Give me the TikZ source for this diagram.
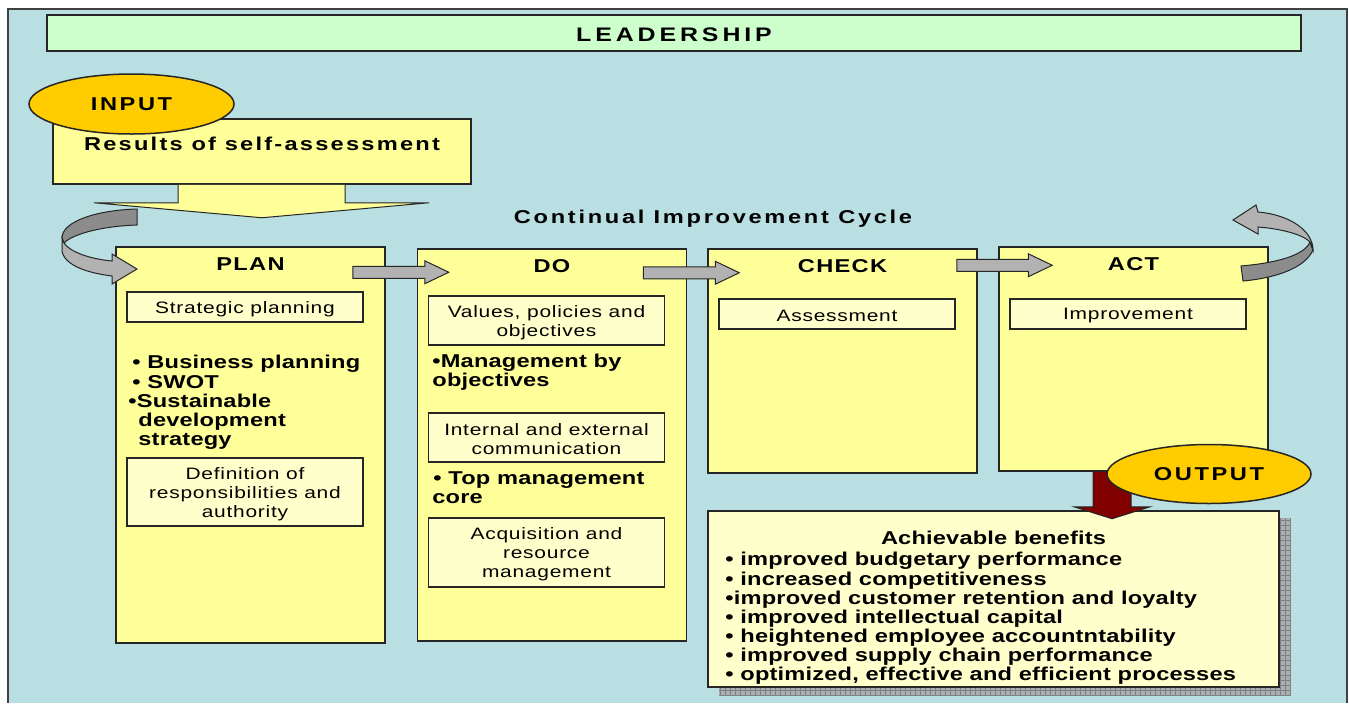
\documentclass[tikz,border=0pt]{standalone}
\usepackage{fontspec}
\setmainfont{Liberation Sans}
\newfontfamily\leadfont[FakeStretch=1.27,LetterSpace=20]{Liberation Sans}
\newfontfamily\capsfont[FakeStretch=1.27,LetterSpace=7]{Liberation Sans}
\newfontfamily\ovalfont[FakeStretch=1.27,LetterSpace=14]{Liberation Sans}
\newfontfamily\headfont[FakeStretch=1.27,LetterSpace=12]{Liberation Sans}
\newfontfamily\cyclefont[FakeStretch=1.27,LetterSpace=14.5]{Liberation Sans}
\newfontfamily\listfont[FakeStretch=1.27,LetterSpace=1,Ligatures=NoCommon]{Liberation Sans}
\newfontfamily\boxfont[FakeStretch=1.27,LetterSpace=4.5]{Liberation Sans}
\usetikzlibrary{shapes.geometric,calc}
\definecolor{framebg}{RGB}{185,223,226}
\definecolor{leadgreen}{RGB}{204,255,204}
\definecolor{pdcayellow}{RGB}{255,255,153}
\definecolor{lightyellow}{RGB}{255,255,204}
\definecolor{ovalgold}{RGB}{255,204,0}
\definecolor{arrowgray}{RGB}{178,178,178}
\definecolor{arrowdark}{RGB}{140,140,140}
\definecolor{outred}{RGB}{128,0,0}
\definecolor{shadowgray}{RGB}{170,174,176}
\begin{document}
\begin{tikzpicture}[x=0.5pt,y=-0.5pt,
  outline/.style={draw=black!85,line width=0.75pt},
  phase/.style={outline,fill=pdcayellow,minimum width=134.5pt,inner sep=0pt},
  phasetitle/.style={inner sep=0pt,font=\capsfont\bfseries\fontsize{9.3}{9.65}\selectfont},
  task/.style={outline,fill=lightyellow,minimum width=118pt,inner sep=0pt,align=center,font=\boxfont\fontsize{8.25}{9.5}\selectfont},
  bul/.style={inner sep=0pt,align=left,font=\listfont\bfseries\fontsize{9.3}{9.6}\selectfont},
  oval/.style={ellipse,outline,fill=ovalgold,minimum width=102.5pt,minimum height=30pt,inner sep=0pt,font=\ovalfont\bfseries\fontsize{9.3}{9.65}\selectfont},
  grayarrow/.style={outline,line width=0.5pt,fill=arrowgray}]
\useasboundingbox (0,0) rectangle (1349,703);
\fill[framebg] (8,9) rectangle (1347,703);
\draw[black!75,line width=1pt] (8,703) -- (8,9) -- (1347,9) -- (1347,703);
\node[outline,fill=leadgreen,minimum width=627pt,minimum height=18pt,inner sep=0pt] (lead) at (674,33) {};
\node[inner sep=0pt,font=\leadfont\bfseries\fontsize{9.8}{10}\selectfont] (leadtxt) at (674,35) {LEADERSHIP};
% input
\node[outline,fill=pdcayellow,minimum width=209pt,minimum height=32.5pt] (results) at (262,151.5) {};
\node[inner sep=0pt,font=\headfont\bfseries\fontsize{9.3}{9.65}\selectfont] (restxt) at (262,144) {Results of self-assessment};
\begin{scope}[shift={(results.south)}]
\draw[outline,line width=0.5pt,fill=pdcayellow] (-84,0) -- (-84,18) -- (-168,18) -- (0,33) -- (167,18) -- (83,18) -- (83,0);
\end{scope}
\node[oval] (input) at (131.5,104) {INPUT};
\node[inner sep=0pt,font=\cyclefont\bfseries\fontsize{9.3}{9.65}\selectfont] (cycle) at (713,219) {Continual Improvement Cycle};
% PDCA
\node[phase,minimum height=198pt] (plan) at (250.5,445) {};
\node[phase,minimum height=196pt] (do) at (552,445) {};
\node[phase,minimum height=112pt] (check) at (842.5,361) {};
\node[phase,minimum height=112pt] (act) at (1133.5,359) {};
\foreach \b/\t in {plan/PLAN,do/DO,check/CHECK,act/ACT}
  \node[phasetitle] (\b-title) at ([yshift=-9pt]\b.north) {\t};
\node[task,minimum height=15pt] (strat) at (245,307) {};
\node[task,minimum height=34pt] (defin) at (245,492) {};
\node[task,minimum height=24.5pt] (values) at (546.5,320.5) {};
\node[task,minimum height=24.5pt] (comm) at (546.5,437.5) {};
\node[task,minimum height=34.5pt] (acq) at (546.5,552.5) {};
\node[task,minimum height=15pt] (assess) at (837,314) {};
\node[task,minimum height=15pt] (improve) at (1128,314) {};
\foreach \n/\t in {strat/{Strategic planning}, defin/{Definition of\\responsibilities and\\authority},
    values/{Values, policies and\\objectives}, comm/{Internal and external\\communication},
    acq/{Acquisition and\\resource\\management}, assess/Assessment, improve/Improvement}
  \node[task,draw=none,fill=none,minimum height=0pt] (\n-txt) at ([yshift=-1pt]\n.center) {\t};
\node[bul,anchor=west] (planlist) at (128,402.5) {\hspace{2pt}• Business planning\\\hspace{2pt}• SWOT\\•Sustainable\\\hspace{5pt}development\\\hspace{5pt}strategy};
\node[bul,anchor=west] (mbo) at (432,372.5) {•Management by\\objectives};
\node[bul,anchor=west] (core) at (432,487.5) {\hspace{0.5pt}• Top management\\core};
\foreach \a/\b/\tl/\tp/\dy in {plan/do/-33/32/26, do/check/-44/32/24.5, check/act/-21/54/17}{
  \coordinate (tail) at ($(\a.north east)+(\tl,\dy)$);
  \coordinate (tip) at ($(\b.north west)+(\tp,0)$);
  \draw[grayarrow] ($(tail)+(0,-6)$) -- ($(tail -| tip)+(-24,-6)$) -- ++(0,-5.5) -- (tail -| tip)
    -- ($(tail -| tip)+(-24,11.5)$) -- ++(0,-5.5) -- ($(tail)+(0,6)$) -- cycle;
}
% cycle arrows
\draw[grayarrow,fill=arrowdark] (137,209) .. controls (98,210) and (62,221) .. (62,238) -- (64,243) .. controls (74,233) and (105,226) .. (137,225) -- cycle;
\draw[grayarrow] (62,238) -- (62,252) .. controls (66,266) and (88,273) .. (112,276) -- (112,284) -- (137,269) -- (112,254) -- (112,261) .. controls (90,259) and (70,252) .. (64,243) -- cycle;
\draw[grayarrow,fill=arrowdark] (1241,266) .. controls (1275,263) and (1304,256) .. (1310,242) -- (1313,250) .. controls (1305,268) and (1276,278) .. (1243,281) -- cycle;
\draw[grayarrow] (1313,250) .. controls (1313,232) and (1292,215) .. (1258,212) -- (1256,205) -- (1233,220) -- (1258,234) -- (1258,227) .. controls (1285,229) and (1305,236) .. (1310,242) -- cycle;
% output
\fill[shadowgray] (719,518) rectangle (1291,696);
\draw[gray,line width=0.3pt,step=2.5pt] (719,518) grid (1291,696);
\node[outline,fill=lightyellow,minimum width=285.5pt,minimum height=88pt,inner sep=0pt] (benefits) at (993.5,599) {};
\node[inner sep=0pt,font=\listfont\bfseries\fontsize{9.3}{9.65}\selectfont] (bentitle) at (993.5,538) {Achievable benefits};
\node[bul,anchor=west,font=\listfont\bfseries\fontsize{9.3}{9.58}\selectfont] (benlist) at (725,618.5) {• improved budgetary performance\\• increased competitiveness\\•improved customer retention and loyalty\\• improved intellectual capital\\• heightened employee accountntability\\• improved supply chain performance\\• optimized, effective and efficient processes};
\begin{scope}[shift={(act.south)}]
\draw[outline,line width=0.5pt,fill=outred] (-40.5,0) -- (-40.5,35) -- (-59.5,35) -- (-21.5,47) -- (16.5,35) -- (-2.5,35) -- (-2.5,0);
\end{scope}
\node[oval,minimum width=102pt,minimum height=29.5pt] (output) at (1209,474) {OUTPUT};
\end{tikzpicture}
\end{document}
